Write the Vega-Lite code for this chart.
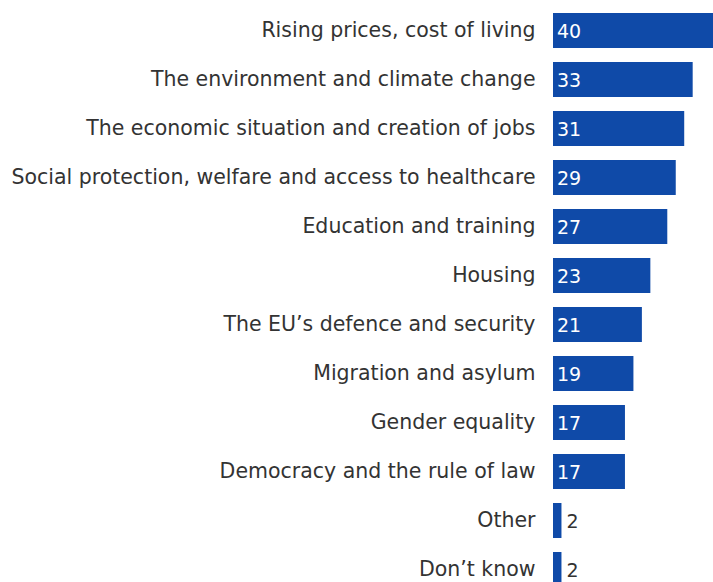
{
  "$schema": "https://vega.github.io/schema/vega-lite/v6.json",
  "autosize": {"type": "none"},
  "padding": {"left": 553, "top": 6, "right": 0, "bottom": 0},
  "width": 160,
  "height": 588,
  "background": "white",
  "config": {"view": {"stroke": null}, "font": "DejaVu Sans"},
  "data": {"values": [
    {"issue": "Rising prices, cost of living", "value": 40},
    {"issue": "The environment and climate change", "value": 33},
    {"issue": "The economic situation and creation of jobs", "value": 31},
    {"issue": "Social protection, welfare and access to healthcare", "value": 29},
    {"issue": "Education and training", "value": 27},
    {"issue": "Housing", "value": 23},
    {"issue": "The EU\u2019s defence and security", "value": 21},
    {"issue": "Migration and asylum", "value": 19},
    {"issue": "Gender equality", "value": 17},
    {"issue": "Democracy and the rule of law", "value": 17},
    {"issue": "Other", "value": 2},
    {"issue": "Don\u2019t know", "value": 2}
  ]},
  "encoding": {
    "y": {
      "field": "issue", "type": "nominal", "sort": null,
      "scale": {"paddingInner": 0.286, "paddingOuter": 0.143},
      "axis": {"title": null, "domain": false, "ticks": false, "labelPadding": 18, "labelFontSize": 20.5, "labelColor": "#333333", "labelFont": "DejaVu Sans", "labelLimit": 600}
    }
  },
  "layer": [
    {
      "mark": {"type": "bar", "color": "#0f4aa8", "clip": true},
      "encoding": {
        "x": {"field": "value", "type": "quantitative", "scale": {"domain": [0, 37.8], "nice": false}, "axis": null}
      }
    },
    {
      "transform": [{"filter": "datum.value >= 10"}],
      "mark": {"type": "text", "align": "left", "dx": 4, "dy": 1, "fontSize": 19, "color": "white", "font": "DejaVu Sans"},
      "encoding": {
        "x": {"datum": 0, "type": "quantitative"},
        "text": {"field": "value", "type": "quantitative"}
      }
    },
    {
      "transform": [{"filter": "datum.value < 10"}],
      "mark": {"type": "text", "align": "left", "dx": 5, "dy": 1, "fontSize": 19, "color": "#333333", "font": "DejaVu Sans"},
      "encoding": {
        "x": {"field": "value", "type": "quantitative"},
        "text": {"field": "value", "type": "quantitative"}
      }
    }
  ]
}
